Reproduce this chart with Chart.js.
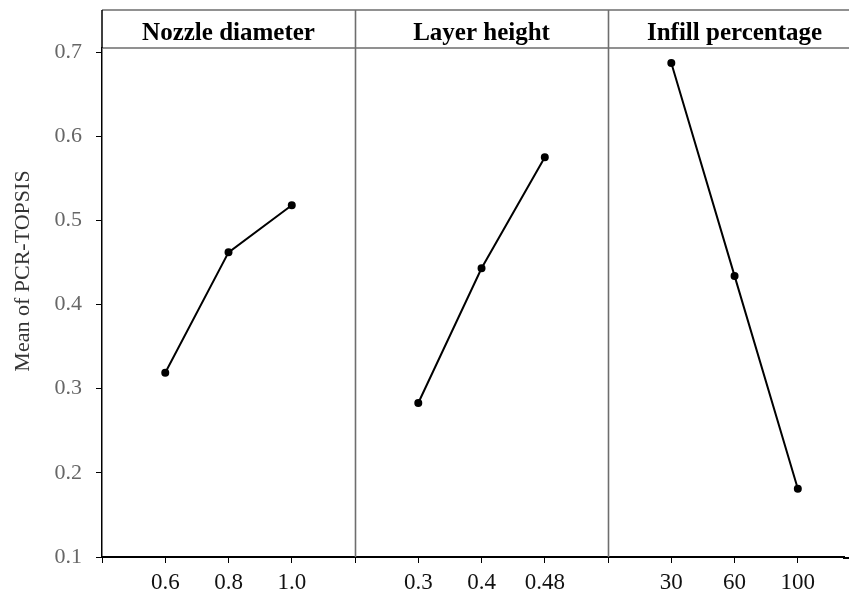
<!DOCTYPE html>
<html>
<head>
<meta charset="utf-8">
<script src="https://cdn.jsdelivr.net/npm/chart.js@4"></script>
<style>
html,body{margin:0;padding:0;background:#fff;overflow:hidden;}
#wrap{width:849px;height:591px;}
</style>
</head>
<body>
<div id="wrap"><canvas id="c" width="849" height="591"></canvas></div>
<script>
const panelTitles = ["Nozzle diameter", "Layer height", "Infill percentage"];
const nozzleLevels = ["0.6", "0.8", "1.0"];
const layerLevels = ["0.3", "0.4", "0.48"];
const infillLevels = ["30", "60", "100"];
const nozzleMeans = [0.319, 0.462, 0.518];
const layerMeans = [0.283, 0.443, 0.575];
const infillMeans = [0.687, 0.434, 0.181];
const yTicks = [0.1, 0.2, 0.3, 0.4, 0.5, 0.6, 0.7];
const yTitle = "Mean of PCR-TOPSIS";

// each panel occupies 4 slots; levels sit at slots 1,2,3
const levelSets = [nozzleLevels, layerLevels, infillLevels];
const meanSets = [nozzleMeans, layerMeans, infillMeans];
const xLabelMap = {};
levelSets.forEach((lv, p) => lv.forEach((l, i) => { xLabelMap[p * 4 + i + 1] = l; }));

const datasets = meanSets.map((m, p) => ({
  label: panelTitles[p],
  data: m.map((v, i) => ({ x: p * 4 + i + 1, y: v })),
  borderColor: '#000',
  backgroundColor: '#000',
  borderWidth: 2,
  pointRadius: 3,
  pointHoverRadius: 3,
  tension: 0
}));

const serif = "'Liberation Serif', 'DejaVu Serif', serif";

const headerPlugin = {
  id: 'header',
  afterDraw(chart) {
    const ctx = chart.ctx;
    const a = chart.chartArea;
    const xs = chart.scales.x;
    const top = a.top - 38;
    const W = chart.width;
    ctx.save();
    // header lines
    ctx.strokeStyle = '#6e6e6e';
    ctx.lineWidth = 1.6;
    ctx.beginPath();
    ctx.moveTo(a.left, top); ctx.lineTo(W, top);
    ctx.moveTo(a.left, a.top); ctx.lineTo(W, a.top);
    // dividers
    [4, 8].forEach(v => {
      const px = Math.round(xs.getPixelForValue(v)) + 0.5;
      ctx.moveTo(px, top); ctx.lineTo(px, a.bottom);
    });
    ctx.stroke();
    // extend x axis line to the edge
    ctx.strokeStyle = '#000';
    ctx.lineWidth = 2;
    ctx.beginPath();
    ctx.moveTo(a.right - 1, a.bottom + 1); ctx.lineTo(W, a.bottom + 1);
    ctx.stroke();
    // left border in header
    ctx.lineWidth = 1.5;
    ctx.beginPath();
    ctx.moveTo(a.left, top); ctx.lineTo(a.left, a.top);
    ctx.stroke();
    // panel titles
    ctx.fillStyle = '#000';
    ctx.font = "bold 25px " + serif;
    ctx.textAlign = 'center';
    ctx.textBaseline = 'alphabetic';
    panelTitles.forEach((t, p) => {
      ctx.fillText(t, xs.getPixelForValue(p * 4 + 2), top + 30);
    });
    // y axis title
    ctx.fillStyle = '#333';
    ctx.font = "22px " + serif;
    ctx.translate(23, 271);
    ctx.rotate(-Math.PI / 2);
    ctx.textBaseline = 'middle';
    ctx.fillText(yTitle, 0, 0);
    ctx.restore();
  }
};

new Chart(document.getElementById('c'), {
  type: 'line',
  data: { datasets },
  options: {
    responsive: false,
    animation: false,
    events: [],
    layout: { padding: { top: 48, left: 0, right: 0, bottom: 0 } },
    plugins: { legend: { display: false }, tooltip: { enabled: false } },
    scales: {
      x: {
        type: 'linear',
        min: 0,
        max: 11.73,
        afterBuildTicks(s) { s.ticks = Array.from({ length: 12 }, (_, i) => ({ value: i })); },
        afterFit(s) { s.height = 34; },
        ticks: {
          autoSkip: false,
          maxRotation: 0,
          padding: 6,
          color: '#111',
          font: { family: serif, size: 23 },
          callback: v => xLabelMap[v] || ''
        },
        grid: { drawOnChartArea: false, drawTicks: true, tickLength: 6, tickColor: '#000', tickWidth: 1 },
        border: { color: '#000', width: 2 }
      },
      y: {
        type: 'linear',
        min: 0.1,
        max: 0.7048,
        afterBuildTicks(s) { s.ticks = yTicks.map(v => ({ value: v })); },
        afterFit(s) { s.width = 102; },
        ticks: {
          padding: 14,
          color: '#666',
          font: { family: serif, size: 22 },
          callback: v => v.toFixed(1)
        },
        title: { display: false },
        grid: { drawOnChartArea: false, drawTicks: true, tickLength: 6, tickColor: '#000', tickWidth: 1 },
        border: { color: '#000', width: 1.5 }
      }
    }
  },
  plugins: [headerPlugin]
});
</script>
</body>
</html>
